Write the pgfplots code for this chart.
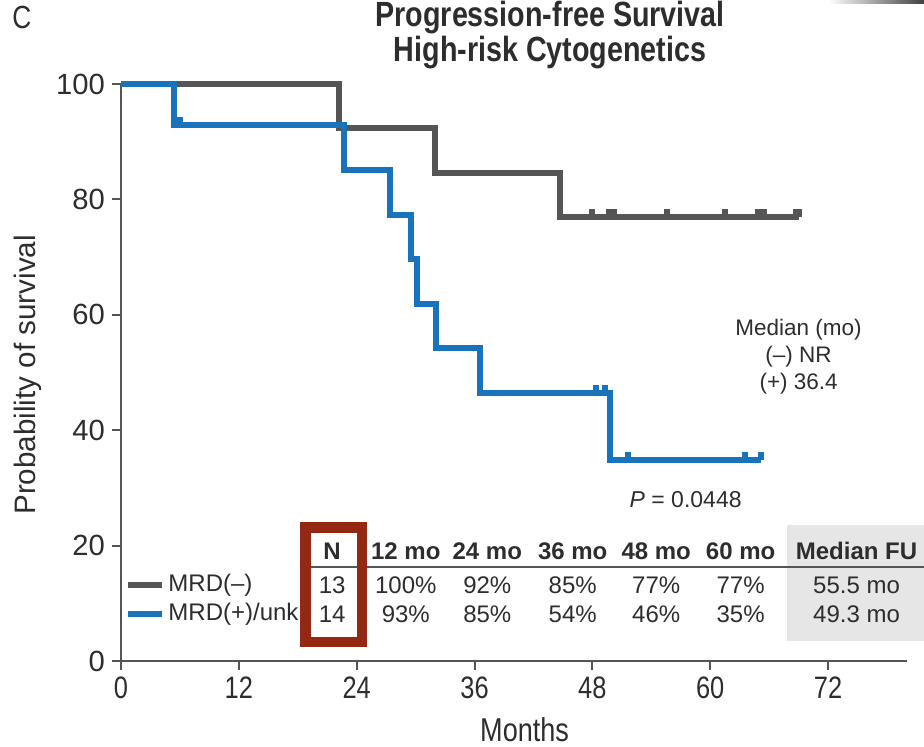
\documentclass[border=0pt]{standalone}
\usepackage{fontspec}
\setmainfont{Liberation Sans}
\newfontfamily\narrowfont[FakeStretch=0.82]{Liberation Sans}
\usepackage{pgfplots}
\pgfplotsset{compat=1.18}

\definecolor{mrdneg}{RGB}{85,85,85}
\definecolor{mrdpos}{RGB}{24,115,187}
\definecolor{axisgray}{RGB}{85,85,85}
\definecolor{textgray}{RGB}{45,45,45}
\definecolor{boxred}{RGB}{148,40,18}
\definecolor{fugray}{RGB}{230,230,230}

% censoring tick: a short upward stroke above the curve
\pgfdeclareplotmark{censor}{%
  \pgfpathmoveto{\pgfpointorigin}%
  \pgfpathlineto{\pgfpoint{0pt}{4pt}}%
  \pgfusepathqstroke}

\newcommand{\tabfont}{\fontsize{12}{12}\selectfont}

\begin{document}
\begin{tikzpicture}
\useasboundingbox (-60.5pt,-43pt) rectangle (401.5pt,330.5pt);
\begin{axis}[
  at={(0,0)}, anchor=south west, scale only axis,
  width=392.8pt, height=288.5pt,
  xmin=0, xmax=80, ymin=0, ymax=100,
  axis lines*=left,
  axis line style={axisgray, line width=1pt},
  xtick={0,12,...,72}, ytick={0,20,...,100},
  tick align=outside, major tick length=4.5pt,
  tick style={axisgray, line width=1pt},
  /pgf/number format/assume math mode=true,
  yticklabel style={font=\fontsize{14.6}{14.6}\selectfont, text=textgray},
  xticklabel style={font=\narrowfont\fontsize{15.5}{15.5}\selectfont, text=textgray},
  clip=false,
]

% shaded cell behind the median follow-up column
\fill[fugray] (axis cs:67.8,3.47) rectangle (axis cs:81.8,23.6);

% MRD(-): Kaplan-Meier steps
\addplot[const plot, mrdneg, line width=3pt] coordinates {
  (0,100) (22.2,92.31) (32.0,84.62) (44.7,76.92) (69.0,76.92)
};
\addplot[only marks, mark=censor, mrdneg, line width=3pt] coordinates {
  (48.0,76.92) (49.7,76.92) (50.2,76.92) (55.6,76.92) (61.5,76.92)
  (64.9,76.92) (65.5,76.92) (68.7,76.92) (68.9,76.92) (69.0,76.92)
};

% MRD(+)/unknown: Kaplan-Meier steps
\addplot[const plot, mrdpos, line width=3pt] coordinates {
  (0,100) (5.4,92.86) (22.7,85.12) (27.4,77.38) (29.5,69.64)
  (30.1,61.90) (32.1,54.17) (36.6,46.43) (49.8,34.82) (65.2,34.82)
};
\addplot[only marks, mark=censor, mrdpos, line width=3pt] coordinates {
  (6.0,92.86) (48.4,46.43) (49.3,46.43) (51.6,34.82) (63.5,34.82) (65.2,34.82)
};

% titles and axis labels
\node[font=\narrowfont\fontsize{16}{16}\selectfont, text=textgray] at (axis cs:-10.1,111.6) {C};
\node[font=\narrowfont\bfseries\fontsize{17.5}{17.5}\selectfont, text=textgray] at (axis cs:43.7,111.6) {Progression-free Survival};
\node[font=\narrowfont\bfseries\fontsize{17.5}{17.5}\selectfont, text=textgray] at (axis cs:43.7,105.5) {High-risk Cytogenetics};
\node[rotate=90, font=\fontsize{14.8}{14.8}\selectfont, text=textgray] at (axis cs:-9.47,49.6) {Probability of survival};
\node[font=\narrowfont\fontsize{16.5}{16.5}\selectfont, text=textgray] at (axis cs:41.1,-11.9) {Months};

% median annotation
\node[font=\fontsize{11.25}{11.25}\selectfont, text=textgray] at (axis cs:69.0,57.4) {Median (mo)};
\node[font=\fontsize{11.25}{11.25}\selectfont, text=textgray] at (axis cs:69.0,52.7) {(–) NR};
\node[font=\fontsize{11.25}{11.25}\selectfont, text=textgray] at (axis cs:69.0,48.0) {(+) 36.4};
\node[font=\fontsize{11.5}{11.5}\selectfont, text=textgray] at (axis cs:57.5,27.9) {\textit{P} = 0.0448};

% summary table
\draw[axisgray, line width=1pt] (axis cs:18.2,16.3) -- (axis cs:81.8,16.3);
\begin{scope}[every node/.style={font=\tabfont\bfseries, text=textgray}]
  \node at (axis cs:21.5,19.06) {N};
  \node at (axis cs:29.0,19.06) {12 mo};
  \node at (axis cs:37.3,19.06) {24 mo};
  \node at (axis cs:46.0,19.06) {36 mo};
  \node at (axis cs:54.5,19.06) {48 mo};
  \node at (axis cs:63.1,19.06) {60 mo};
  \node at (axis cs:74.9,19.06) {Median FU};
\end{scope}
\begin{scope}[every node/.style={font=\tabfont, text=textgray}]
  \draw[mrdneg, line width=3.2pt] (axis cs:0.71,13.17) -- (axis cs:4.18,13.17);
  \draw[mrdpos, line width=3.2pt] (axis cs:0.71,8.15) -- (axis cs:4.18,8.15);
  \node[anchor=west, inner sep=0pt] at (axis cs:4.79,13.17) {MRD(–)};
  \node[anchor=west, inner sep=0pt] at (axis cs:4.79,8.15) {MRD(+)/unk};
  \node at (axis cs:21.5,13.17) {13};
  \node at (axis cs:29.0,13.17) {100\%};
  \node at (axis cs:37.3,13.17) {92\%};
  \node at (axis cs:46.0,13.17) {85\%};
  \node at (axis cs:54.5,13.17) {77\%};
  \node at (axis cs:63.1,13.17) {77\%};
  \node at (axis cs:74.9,13.17) {55.5 mo};
  \node at (axis cs:21.5,8.15) {14};
  \node at (axis cs:29.0,8.15) {93\%};
  \node at (axis cs:37.3,8.15) {85\%};
  \node at (axis cs:46.0,8.15) {54\%};
  \node at (axis cs:54.5,8.15) {46\%};
  \node at (axis cs:63.1,8.15) {35\%};
  \node at (axis cs:74.9,8.15) {49.3 mo};
\end{scope}

% highlight frame round the N column
\draw[boxred, line width=5.25pt] (axis cs:18.79,3.29) rectangle (axis cs:24.54,23.14);

% dark edge in the upper right corner
\shade[left color=white, right color=black!75] (axis cs:72,113.9) rectangle (axis cs:81.8,114.6);
\end{axis}
\end{tikzpicture}
\end{document}
